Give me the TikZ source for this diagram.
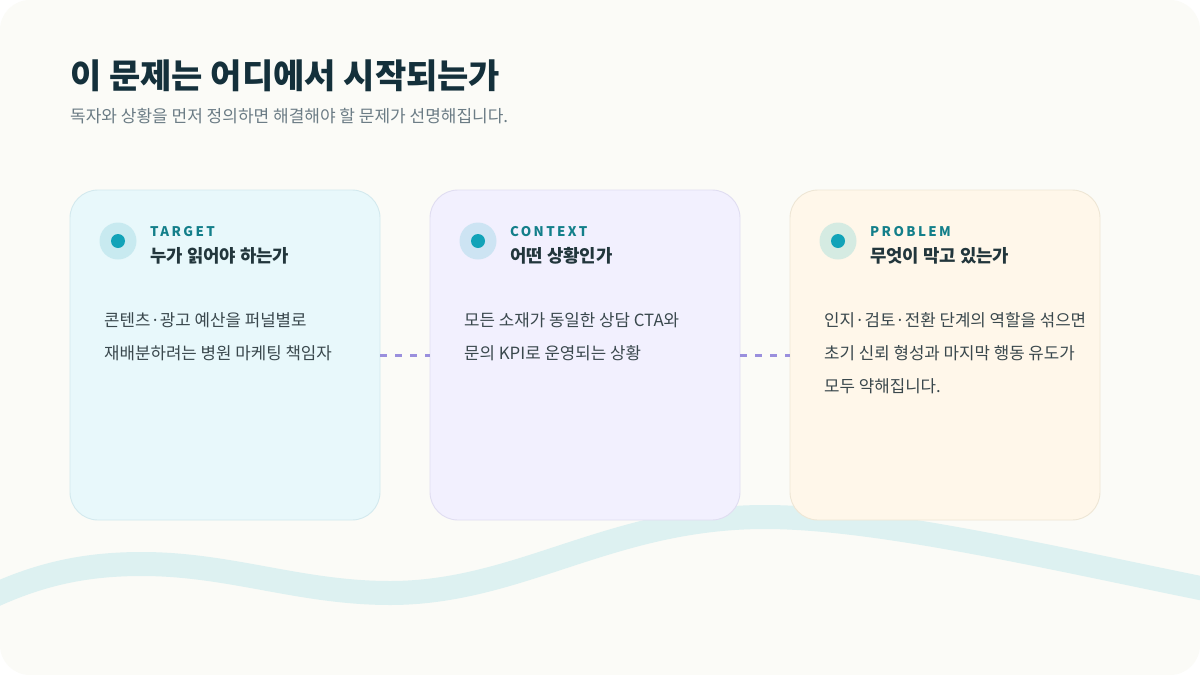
\documentclass[tikz,border=0pt]{standalone}
\usepackage{fontspec}
\setmainfont{Noto Sans CJK KR}
\newfontfamily\labelfont[LetterSpace=18]{Noto Sans CJK KR}
\definecolor{pagebg}{HTML}{FBFBF7}
\definecolor{titlec}{HTML}{14303B}
\definecolor{subc}{HTML}{6B7C85}
\definecolor{bodyc}{HTML}{3A484D}
\definecolor{headc}{HTML}{22363C}
\definecolor{tagc}{HTML}{137F8A}
\definecolor{dotc}{HTML}{12A3B8}
\definecolor{wavec}{HTML}{DDF1F1}
\definecolor{dashc}{HTML}{9A8FDD}
\definecolor{fillA}{HTML}{E8F8FB}\definecolor{lineA}{HTML}{D3E9EE}\definecolor{ringA}{HTML}{C8EAF0}
\definecolor{fillB}{HTML}{F2F0FE}\definecolor{lineB}{HTML}{E0DDF1}\definecolor{ringB}{HTML}{CDE4F3}
\definecolor{fillC}{HTML}{FFF7EA}\definecolor{lineC}{HTML}{EEE6D5}\definecolor{ringC}{HTML}{D5EBE2}
\tikzset{
  card/.style={draw=#1, line width=0.9pt, rounded corners=28pt, minimum width=310pt, minimum height=330pt, inner sep=0pt},
  ring/.style={circle, fill=#1, minimum size=37pt, inner sep=0pt},
  dotmark/.style={circle, fill=dotc, minimum size=14pt, inner sep=0pt},
  tag/.style={anchor=base west, inner sep=0pt, text=tagc, font=\fontsize{13.3}{16}\labelfont\bfseries},
  head/.style={anchor=base west, inner sep=0pt, text=headc, font=\fontsize{17.8}{20}\selectfont\bfseries},
  body/.style={anchor=base west, inner sep=0pt, text=bodyc, font=\fontsize{16.8}{20}\selectfont},
  dashline/.style={draw=dashc, line width=3pt, dash pattern=on 7pt off 8pt},
}
\begin{document}
\begin{tikzpicture}[x=1pt,y=-1pt]
\useasboundingbox (0,0) rectangle (1200,675);
\fill[white] (0,0) rectangle (1200,675);
\begin{scope}
\clip[rounded corners=30pt] (0,0) rectangle (1200,675);
\fill[pagebg] (0,0) rectangle (1200,675);
\draw[wavec, line width=24pt] (-20,602) .. controls (40,572) and (90,564) .. (142,564)
  .. controls (230,564) and (300,593) .. (390,593)
  .. controls (520,593) and (610,517) .. (765,517)
  .. controls (880,517) and (1060,560) .. (1220,592);
\end{scope}
% title
\node[anchor=base west, inner sep=0pt, text=titlec, font=\fontsize{34}{40}\selectfont\bfseries] (title) at (70,88) {이 문제는 어디에서 시작되는가};
\node[anchor=base west, inner sep=0pt, text=subc, font=\fontsize{17}{20}\selectfont] (sub) at (70,122) {독자와 상황을 먼저 정의하면 해결해야 할 문제가 선명해집니다.};
% cards
\node[card=lineA, fill=fillA] (c1) at (225,355) {};
\node[card=lineB, fill=fillB] (c2) at (585,355) {};
\node[card=lineC, fill=fillC] (c3) at (945,355) {};
\draw[dashline] (c1.east) -- (c2.west);
\draw[dashline] (c2.east) -- (c3.west);
% card 1
\node[ring=ringA] (r1) at (118,241) {};
\node[dotmark] (d1) at (r1) {};
\node[tag] (t1) at (150,236) {TARGET};
\node[head] (h1) at (150,262) {누가 읽어야 하는가};
\node[body] (b1a) at (104,326) {콘텐츠·광고 예산을 퍼널별로};
\node[body] (b1b) at (104,359) {재배분하려는 병원 마케팅 책임자};
% card 2
\node[ring=ringB] (r2) at (478,241) {};
\node[dotmark] (d2) at (r2) {};
\node[tag] (t2) at (510,236) {CONTEXT};
\node[head] (h2) at (510,262) {어떤 상황인가};
\node[body] (b2a) at (464,326) {모든 소재가 동일한 상담 CTA와};
\node[body] (b2b) at (464,359) {문의 KPI로 운영되는 상황};
% card 3
\node[ring=ringC] (r3) at (838,241) {};
\node[dotmark] (d3) at (r3) {};
\node[tag] (t3) at (870,236) {PROBLEM};
\node[head] (h3) at (870,262) {무엇이 막고 있는가};
\node[body] (b3a) at (824,326) {인지·검토·전환 단계의 역할을 섞으면};
\node[body] (b3b) at (824,359) {초기 신뢰 형성과 마지막 행동 유도가};
\node[body] (b3c) at (824,392) {모두 약해집니다.};
\end{tikzpicture}
\end{document}
